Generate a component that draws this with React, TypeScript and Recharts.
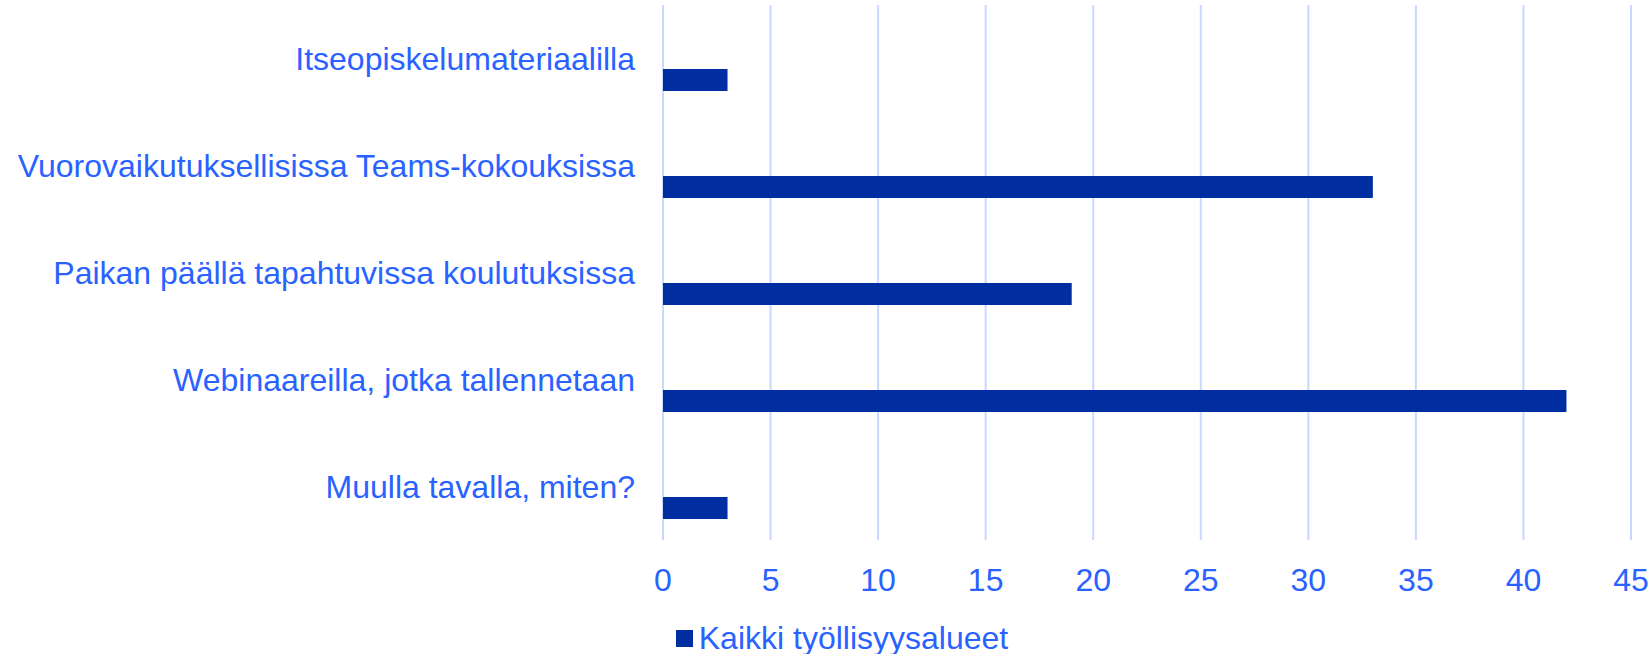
import React from 'react';
import { BarChart, Bar, XAxis, YAxis, CartesianGrid, Legend } from 'recharts';

const categories = [
  'Itseopiskelumateriaalilla',
  'Vuorovaikutuksellisissa Teams-kokouksissa',
  'Paikan päällä tapahtuvissa koulutuksissa',
  'Webinaareilla, jotka tallennetaan',
  'Muulla tavalla, miten?',
];
const values = [3, 33, 19, 42, 3];
const xTicks = [0, 5, 10, 15, 20, 25, 30, 35, 40, 45];
const seriesName = 'Kaikki työllisyysalueet';

const data = categories.map((c, i) => ({ category: c, value: values[i], spacer: 0 }));

const FONT = '"Liberation Sans", Arial, sans-serif';
const TEXT = '#2962FF';
const BAR = '#002EA1';
const GRID = '#C8D8FF';
const FS = 32;

const renderLegend = (props: any) => {
  const payload = (props.payload || []).filter((p: any) => p.type !== 'none');
  return (
    <div
      style={{
        width: 1650,
        height: 54,
        boxSizing: 'border-box',
        paddingTop: 23,
        paddingLeft: 34,
        display: 'flex',
        justifyContent: 'center',
        fontFamily: FONT,
      }}
    >
      {payload.map((p: any) => (
        <div key={p.value} style={{ display: 'flex', alignItems: 'center', height: 30 }}>
          <div style={{ width: 17, height: 17, background: BAR, marginRight: 6 }} />
          <span style={{ fontSize: FS, color: TEXT, lineHeight: '30px' }}>{p.value}</span>
        </div>
      ))}
    </div>
  );
};

export default function App() {
  return (
    <div style={{ position: 'absolute', left: 0, top: 0, width: 1650, height: 654, background: '#fff' }}>
      <BarChart
        width={1650}
        height={654}
        data={data}
        layout="vertical"
        margin={{ top: 5, right: 19, left: 0, bottom: 0 }}
        barGap={21}
      >
        <CartesianGrid horizontal={false} vertical={true} stroke={GRID} strokeWidth={2} />
        <XAxis
          type="number"
          domain={[0, 45]}
          ticks={xTicks}
          interval={0}
          axisLine={false}
          tickLine={false}
          tickSize={0}
          tickMargin={28}
          height={60}
          tick={{ fill: TEXT, fontSize: FS, fontFamily: FONT }}
        />
        <YAxis
          type="category"
          dataKey="category"
          width={663}
          interval={0}
          axisLine={false}
          tickLine={false}
          tickSize={0}
          tickMargin={28}
          tick={{ fill: TEXT, fontSize: FS, fontFamily: FONT }}
        />
        <Legend verticalAlign="bottom" content={renderLegend} wrapperStyle={{ left: 0, width: 1650, bottom: 0 }} />
        <Bar dataKey="spacer" legendType="none" fill="none" barSize={22} isAnimationActive={false} />
        <Bar dataKey="value" name={seriesName} fill={BAR} barSize={22} isAnimationActive={false} />
      </BarChart>
    </div>
  );
}
